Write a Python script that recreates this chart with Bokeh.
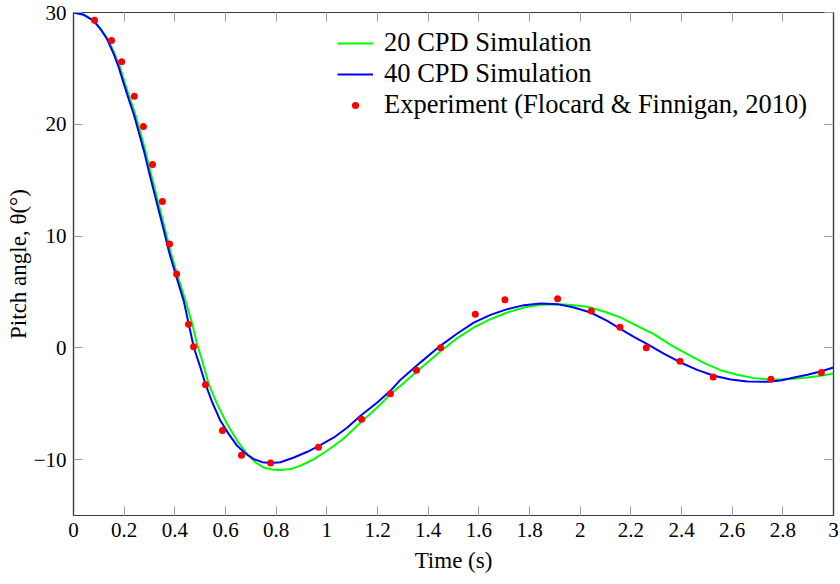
from bokeh.plotting import figure
from bokeh.models import LinearAxis, FixedTicker, Range1d, Legend, LegendItem
from bokeh.embed import file_html
from bokeh.resources import INLINE

# ---------------- data ----------------
x_ticks = [0, 0.2, 0.4, 0.6, 0.8, 1, 1.2, 1.4, 1.6, 1.8, 2, 2.2, 2.4, 2.6, 2.8, 3]
x_tick_labels = ["0", "0.2", "0.4", "0.6", "0.8", "1", "1.2", "1.4", "1.6", "1.8",
                 "2", "2.2", "2.4", "2.6", "2.8", "3"]
y_ticks = [-10, 0, 10, 20, 30]
y_tick_labels = ["\u221210", "0", "10", "20", "30"]

# 20 CPD simulation (green)
sim20_t = [0, 0.041, 0.081, 0.109, 0.136, 0.163, 0.184, 0.204, 0.224, 0.244, 0.264,
           0.284, 0.303, 0.323, 0.343, 0.363, 0.382, 0.409, 0.442, 0.469, 0.488,
           0.508, 0.534, 0.567, 0.607, 0.646, 0.686, 0.719, 0.751, 0.784, 0.817,
           0.857, 0.896, 0.949, 1.001, 1.067, 1.133, 1.199, 1.251, 1.291, 1.370,
           1.449, 1.515, 1.580, 1.646, 1.712, 1.778, 1.844, 1.923, 1.975, 2.028,
           2.094, 2.160, 2.225, 2.291, 2.357, 2.423, 2.488, 2.554, 2.620, 2.686,
           2.739, 2.791, 2.844, 2.897, 2.949, 3.0]
sim20_theta = [30, 29.79, 29.25, 28.5, 27.6, 26.27, 25.07, 23.59, 22.24, 20.9, 19.26,
               17.62, 15.83, 14.04, 12.25, 10.47, 8.68, 6.59, 4.2, 2.12, 0.33,
               -1.16, -3.25, -5.04, -6.83, -8.32, -9.51, -10.26, -10.71, -10.89, -10.94,
               -10.85, -10.55, -9.96, -9.21, -8.11, -6.68, -5.34, -4.14, -3.4, -1.82,
               -0.3, 0.87, 1.82, 2.56, 3.16, 3.61, 3.85, 3.91, 3.82, 3.67,
               3.25, 2.71, 1.97, 1.22, 0.27, -0.57, -1.34, -2.0, -2.41, -2.71,
               -2.8, -2.83, -2.77, -2.65, -2.5, -2.3]

# 40 CPD simulation (blue)
sim40_t = [0, 0.041, 0.080, 0.107, 0.133, 0.159, 0.179, 0.199, 0.218, 0.238, 0.258,
           0.278, 0.297, 0.317, 0.337, 0.357, 0.376, 0.403, 0.435, 0.455, 0.475,
           0.501, 0.521, 0.548, 0.580, 0.613, 0.646, 0.679, 0.712, 0.745, 0.778,
           0.817, 0.870, 0.923, 0.969, 1.028, 1.081, 1.133, 1.199, 1.251, 1.291,
           1.370, 1.449, 1.515, 1.580, 1.646, 1.712, 1.778, 1.844, 1.910, 1.975,
           2.041, 2.107, 2.160, 2.212, 2.265, 2.330, 2.396, 2.462, 2.528, 2.594,
           2.660, 2.739, 2.791, 2.844, 2.897, 2.949, 3.0]
sim40_theta = [30, 29.79, 29.25, 28.5, 27.6, 26.27, 25.07, 23.59, 22.24, 20.9, 19.26,
               17.62, 15.83, 14.04, 12.25, 10.47, 8.68, 6.59, 4.2, 2.12, 0.03,
               -1.76, -3.25, -4.89, -6.53, -7.72, -8.77, -9.45, -9.96, -10.23, -10.31,
               -10.23, -9.81, -9.3, -8.77, -8.02, -7.13, -6.08, -4.89, -3.85, -2.85,
               -1.3, 0.2, 1.28, 2.26, 2.95, 3.46, 3.82, 3.96, 3.91, 3.61,
               3.16, 2.42, 1.67, 0.98, 0.33, -0.51, -1.31, -1.97, -2.5, -2.83,
               -3.01, -3.04, -2.92, -2.65, -2.41, -2.12, -1.76]

# Experiment (Flocard & Finnigan, 2010)
exp_t = [0.083, 0.150, 0.19, 0.24, 0.276, 0.312, 0.351, 0.379, 0.407, 0.454, 0.474,
         0.521, 0.588, 0.663, 0.778, 0.967, 1.137, 1.251, 1.354, 1.449, 1.586,
         1.703, 1.911, 2.044, 2.157, 2.261, 2.394, 2.525, 2.753, 2.952]
exp_theta = [29.3, 27.5, 25.6, 22.5, 19.8, 16.4, 13.1, 9.3, 6.6, 2.1, 0.1,
             -3.3, -7.4, -9.6, -10.3, -8.9, -6.4, -4.1, -2.0, 0.0, 3.0,
             4.3, 4.4, 3.3, 1.85, 0.0, -1.2, -2.6, -2.8, -2.2]

FONT = "Liberation Serif"
FRAME = "#3a3a3a"
TICK = "#9a9a9a"

p = figure(width=840, height=584, x_range=Range1d(0, 3), y_range=Range1d(-15, 30),
           output_backend="svg", toolbar_location=None,
           min_border_left=73, min_border_right=7, min_border_top=12, min_border_bottom=69)
p.grid.visible = False
p.outline_line_color = FRAME
p.outline_line_width = 1.2
p.background_fill_color = "white"
p.border_fill_color = "white"

for ax in p.xaxis:
    ax.ticker = FixedTicker(ticks=x_ticks)
    ax.major_label_overrides = dict(zip(x_ticks, x_tick_labels))
    ax.axis_label = "Time (s)"
for ax in p.yaxis:
    ax.ticker = FixedTicker(ticks=y_ticks)
    ax.major_label_overrides = dict(zip(y_ticks, y_tick_labels))
    ax.axis_label = "Pitch angle, \u03b8(\u00b0)"

top = LinearAxis(ticker=FixedTicker(ticks=x_ticks))
top.major_label_overrides = {t: "" for t in x_ticks}
right = LinearAxis(ticker=FixedTicker(ticks=y_ticks))
right.major_label_overrides = {t: "" for t in y_ticks}
for ax in (top, right):
    ax.major_label_text_font_size = "1px"
    ax.major_label_text_alpha = 0
    ax.major_label_standoff = 0
p.add_layout(top, "above")
p.add_layout(right, "right")

for ax in p.axis:
    ax.axis_line_color = FRAME
    ax.axis_line_width = 1.2
    ax.major_tick_in = 9
    ax.major_tick_out = 0
    ax.major_tick_line_color = TICK
    ax.major_tick_line_width = 1
    ax.minor_tick_line_color = None
    ax.major_label_text_font = FONT
    ax.major_label_text_color = "black"
    ax.axis_label_text_font = FONT
    ax.axis_label_text_font_style = "normal"
    ax.axis_label_text_color = "black"

for ax in p.xaxis:
    ax.major_label_text_font_size = "21px"
    ax.major_label_standoff = 7
    ax.axis_label_text_font_size = "23px"
    ax.axis_label_standoff = 8
for ax in p.yaxis:
    ax.major_label_text_font_size = "21px"
    ax.major_label_standoff = 7
    ax.axis_label_text_font_size = "23px"
    ax.axis_label_standoff = 0

g = p.line(sim20_t, sim20_theta, line_color="#00ff00", line_width=2)
b = p.line(sim40_t, sim40_theta, line_color="#0000ff", line_width=2)
r = p.scatter(exp_t, exp_theta, size=7, fill_color="#ff0000", line_color=None)

legend = Legend(items=[LegendItem(label="20 CPD Simulation", renderers=[g]),
                       LegendItem(label="40 CPD Simulation", renderers=[b]),
                       LegendItem(label="Experiment (Flocard & Finnigan, 2010)", renderers=[r])],
                location=(264, 395))
legend.border_line_color = None
legend.background_fill_alpha = 0
legend.padding = 0
legend.margin = 0
legend.spacing = 0
legend.glyph_width = 36
legend.glyph_height = 18
legend.label_height = 30
legend.label_standoff = 11
legend.label_text_font = FONT
legend.label_text_font_size = "26.5px"
legend.label_text_color = "black"
p.add_layout(legend)

open("out.html", "w").write(file_html(p, INLINE))
